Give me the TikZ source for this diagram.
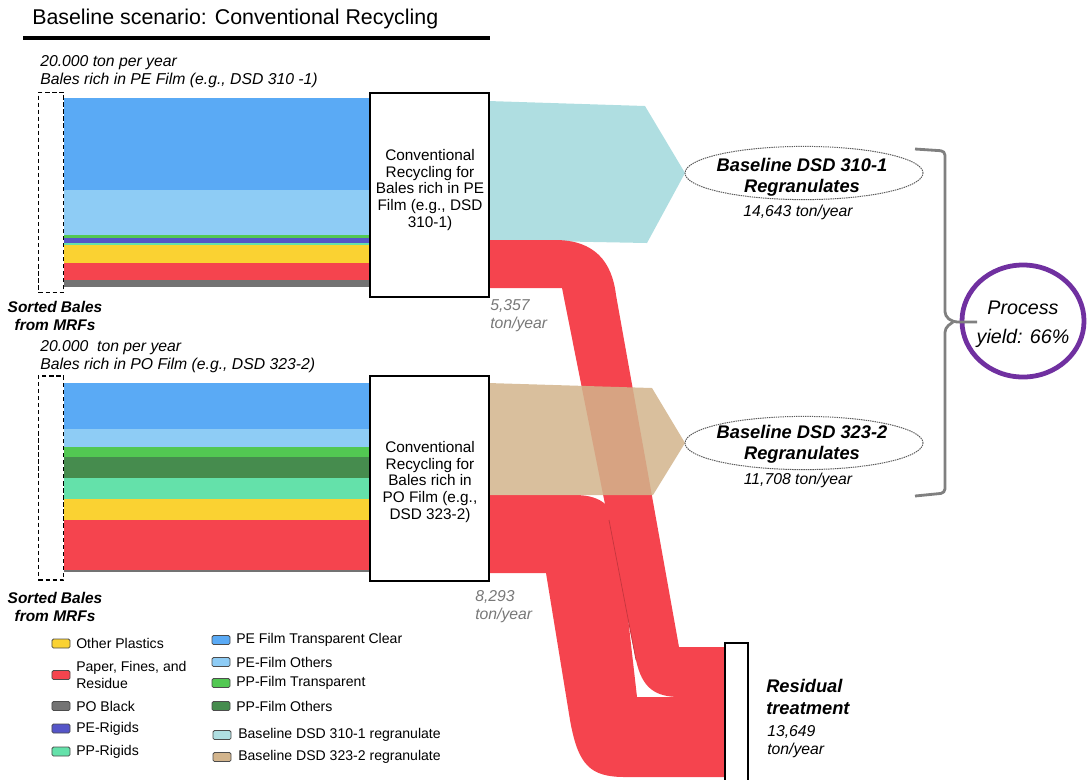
\documentclass[tikz,border=0pt]{standalone}
\usepackage{fontspec}
\setmainfont{Liberation Sans}
\usetikzlibrary{shapes.geometric}
\definecolor{peclear}{RGB}{90,170,245}
\definecolor{peother}{RGB}{142,204,245}
\definecolor{pptrans}{RGB}{82,200,82}
\definecolor{ppother}{RGB}{70,140,78}
\definecolor{perigid}{RGB}{85,85,200}
\definecolor{pprigid}{RGB}{100,225,170}
\definecolor{otherpl}{RGB}{250,210,50}
\definecolor{paper}{RGB}{245,68,78}
\definecolor{poblack}{RGB}{115,115,115}
\definecolor{reg310}{RGB}{175,222,225}
\definecolor{reg323}{RGB}{210,180,140}
\definecolor{yieldpurple}{RGB}{112,48,160}
\definecolor{labgray}{RGB}{120,120,120}
\begin{document}
\begin{tikzpicture}[x=0.025cm,y=-0.025cm,
  lbl/.style={font=\fontsize{11.2}{12.8}\selectfont\itshape, inner sep=0pt},
  blbl/.style={font=\fontsize{11}{12.8}\selectfont\bfseries\itshape, inner sep=0pt},
  procbox/.style={draw, line width=1.4pt, fill=white, inner sep=0pt, minimum width=2.975cm},
  proctxt/.style={font=\fontsize{10.9}{11.8}\selectfont, align=center, inner sep=0pt},
  dashbox/.style={draw, line width=1.1pt, dash pattern=on 3pt off 2pt, inner sep=0pt, minimum width=0.625cm, minimum height=5cm},
  regell/.style={ellipse, draw=black!65, line width=0.7pt, dash pattern=on 1pt off 0.6pt, inner sep=0pt, minimum width=5.95cm, minimum height=1.33cm},
  swatch/.style={draw=black!70, line width=0.6pt, rounded corners=1pt, inner sep=0pt, minimum width=0.45cm, minimum height=0.225cm},
  legtxt/.style={font=\fontsize{10}{11.8}\selectfont, inner sep=0pt, anchor=west, align=left}
]
\useasboundingbox (0,0) rectangle (1089,779);

% title
\node[anchor=west, inner sep=0pt, font=\fontsize{15.2}{17}\selectfont] (title) at (32,19) {Baseline scenario: Conventional Recycling};
\draw[line width=2.2pt] (23,38) -- (490,38);

% top input texts
\node[lbl, anchor=west, align=left] (in1) at (40,72) {20.000 ton per year\\Bales rich in PE Film (e.g., DSD 310 -1)};
\node[lbl, anchor=west, align=left] (in2) at (40,357) {20.000\ \ ton per year\\Bales rich in PO Film (e.g., DSD 323-2)};

% flows set 1
\fill[peclear] (64,98) rectangle (371,190);
\fill[peother] (64,190) rectangle (371,235);
\fill[pptrans] (64,235) rectangle (371,238);
\fill[perigid] (64,238) rectangle (371,243);
\fill[pprigid] (64,243) rectangle (371,245);
\fill[otherpl] (64,245) rectangle (371,263);
\fill[paper] (64,263) rectangle (371,280);
\fill[poblack] (64,280) rectangle (371,287);

% flows set 2
\fill[peclear] (64,383) rectangle (371,429);
\fill[peother] (64,429) rectangle (371,447);
\fill[pptrans] (64,447) rectangle (371,457);
\fill[ppother] (64,457) rectangle (371,478);
\fill[pprigid] (64,478) rectangle (371,499);
\fill[otherpl] (64,499) rectangle (371,520);
\fill[paper] (64,520) rectangle (371,570);
\fill[poblack] (64,570) rectangle (371,572);

% dashed source boxes
\node[dashbox] (src1) at (51,192.5) {};
\node[dashbox, minimum height=5.1cm] (src2) at (51,478) {};
\node[blbl, align=center] (srclab1) at (55,316) {Sorted Bales\\from MRFs};
\node[blbl, align=center] (srclab2) at (55,607) {Sorted Bales\\from MRFs};

% regranulate arrow 1
\fill[reg310] (488,101) -- (645,106) -- (685,173) -- (647,243) -- (488,240) -- cycle;

% residue band 2
\fill[paper] (488,495) -- (575,495) .. controls (603,495) and (614,508) .. (618,530)
  -- (637,697) -- (726,697) -- (726,777) -- (625,777)
  .. controls (590,777) and (578,765) .. (570,720) -- (546,573) -- (488,573) -- cycle;
% residue band 1
\fill[paper] (488,240) -- (555,240) .. controls (595,240) and (612,262) .. (616,295)
  -- (679,647) -- (726,647) -- (726,697) -- (680,697)
  .. controls (655,697) and (642,688) .. (636,660) -- (562,288) -- (488,288) -- cycle;
\draw[paper!80!black, line width=0.5pt] (609,520) -- (636,660);

% regranulate arrow 2
\fill[reg323, opacity=0.85] (488,383) -- (652,388) -- (685,443) -- (653,495) -- (488,495) -- cycle;

% process boxes
\node[procbox, minimum height=5.1cm] (box1) at (429.5,195) {};
\node[proctxt] (box1txt) at (430,190) {Conventional\\Recycling for\\Bales rich in PE\\Film (e.g., DSD\\310-1)};
\node[procbox, minimum height=5.125cm] (box2) at (429.5,478.5) {};
\node[proctxt] (box2txt) at (430,482) {Conventional\\Recycling for\\Bales rich in\\PO Film (e.g.,\\DSD 323-2)};

% residue flow labels
\node[lbl, text=labgray, anchor=west, align=left] (res1lab) at (490,316) {5,357\\ton/year};
\node[lbl, text=labgray, anchor=west, align=left] (res2lab) at (475,607) {8,293\\ton/year};

% residual treatment
\node[procbox, minimum width=0.575cm, minimum height=3.45cm] (resid) at (736.5,712) {};
\node[font=\fontsize{13}{15.5}\selectfont\bfseries\itshape, inner sep=0pt, anchor=west, align=left] (residlab) at (766,697) {Residual\\treatment};
\node[lbl, anchor=west, align=left] (residval) at (767,742) {13,649\\ton/year};

% regranulate ellipses
\node[regell] (reg1) at (804,173) {};
\node[font=\fontsize{13}{14.8}\selectfont\bfseries\itshape, inner sep=0pt, align=center] (reg1txt) at (802,177.5) {Baseline DSD 310-1\\Regranulates};
\node[lbl] (reg1val) at (798,212) {14,643 ton/year};
\node[regell] (reg2) at (804,443) {};
\node[font=\fontsize{13}{14.8}\selectfont\bfseries\itshape, inner sep=0pt, align=center] (reg2txt) at (802,444.5) {Baseline DSD 323-2\\Regranulates};
\node[lbl] (reg2val) at (798,480) {11,708 ton/year};

% process yield
\node[ellipse, draw=yieldpurple, line width=3.4pt, inner sep=0pt, minimum width=3.05cm, minimum height=2.8cm] (yield) at (1023,321) {};
\node[font=\fontsize{14}{20.5}\selectfont\itshape, inner sep=0pt, align=center] (yieldtxt) at (1023,324) {Process\\yield: 66\%};

% bracket
\coordinate (brtip) at (977,322);
\draw[black!50, line width=2pt, rounded corners=3pt] (915,149) -- (945,151) -- (945,316) -- (953,322) -- (brtip);
\draw[black!50, line width=2pt, rounded corners=3pt] (953,322) -- (945,328) -- (945,493) -- (915,496);

% legend left
\node[swatch, fill=otherpl] (sw1) at (61,643.5) {};
\node[legtxt] (lt1) at (76,643.5) {Other Plastics};
\node[swatch, fill=paper] (sw2) at (61,675) {};
\node[legtxt] (lt2) at (76,675) {Paper, Fines, and\\Residue};
\node[swatch, fill=poblack] (sw3) at (61,706) {};
\node[legtxt] (lt3) at (76,706) {PO Black};
\node[swatch, fill=perigid] (sw4) at (61,728.5) {};
\node[legtxt] (lt4) at (76,728.5) {PE-Rigids};
\node[swatch, fill=pprigid] (sw5) at (61,751.5) {};
\node[legtxt] (lt5) at (76,751.5) {PP-Rigids};

% legend right
\node[swatch, fill=peclear] (sw6) at (221,640) {};
\node[legtxt] (lt6) at (236,640) {PE Film Transparent Clear};
\node[swatch, fill=peother] (sw7) at (221,662) {};
\node[legtxt] (lt7) at (236,662) {PE-Film Others};
\node[swatch, fill=pptrans] (sw8) at (221,683) {};
\node[legtxt] (lt8) at (236,683) {PP-Film Transparent};
\node[swatch, fill=ppother] (sw9) at (221,706) {};
\node[legtxt] (lt9) at (236,706) {PP-Film Others};
\node[swatch, fill=reg310] (sw10) at (222,735) {};
\node[legtxt] (lt10) at (238,735) {Baseline DSD 310-1 regranulate};
\node[swatch, fill=reg323] (sw11) at (222,757) {};
\node[legtxt] (lt11) at (238,757) {Baseline DSD 323-2 regranulate};
\end{tikzpicture}
\end{document}
